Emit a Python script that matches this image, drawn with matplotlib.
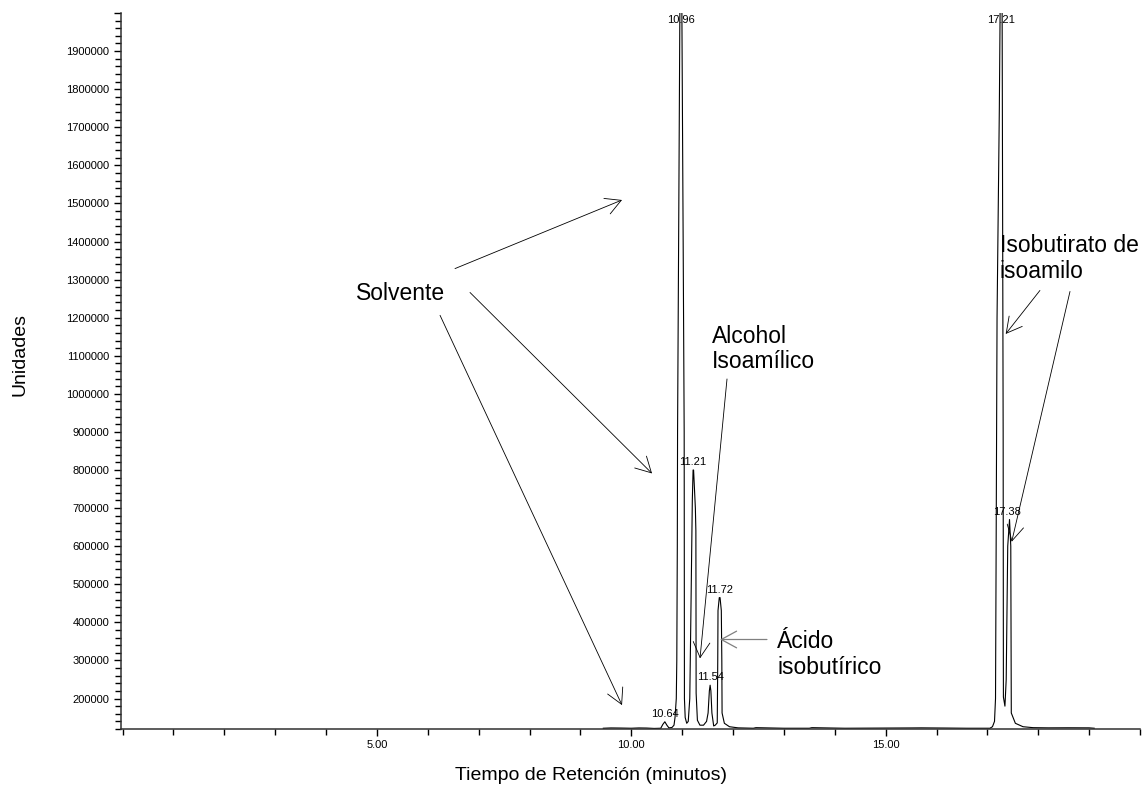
import matplotlib
matplotlib.use("Agg")
import matplotlib.pyplot as plt
from matplotlib.ticker import MultipleLocator, FuncFormatter

plt.rcParams['font.family'] = ['Liberation Sans', 'DejaVu Sans']

# Cromatograma: tiempo (min) y senal (unidades)
tiempo = [9.45, 9.60, 9.80, 10.00, 10.15, 10.30, 10.45, 10.58, 10.62, 10.66, 10.70, 10.74,
          10.80, 10.84, 10.86, 10.885, 10.895, 10.90, 10.905, 10.91, 10.935, 10.955, 10.975,
          10.995, 11.02, 11.04, 11.045, 11.06, 11.09, 11.12, 11.15, 11.17, 11.185, 11.20,
          11.215, 11.225, 11.26, 11.27, 11.275, 11.30, 11.35, 11.42, 11.48, 11.51, 11.535,
          11.55, 11.565, 11.585, 11.62, 11.65, 11.69, 11.70, 11.705, 11.73, 11.745, 11.77,
          11.78, 11.785, 11.83, 11.93, 12.10, 12.40, 12.45, 13.00, 13.50, 13.55, 14.20,
          15.50, 15.70, 15.90, 16.20, 16.60, 17.05, 17.10, 17.14, 17.16, 17.17, 17.19,
          17.235, 17.25, 17.27, 17.29, 17.31, 17.315, 17.345, 17.37, 17.40, 17.435, 17.46,
          17.47, 17.55, 17.70, 17.90, 18.20, 18.60, 19.00, 19.10]
senal = [122000, 122800, 122500, 122000, 122800, 122500, 121500, 122000, 132000, 139000, 130000, 123000,
         124000, 130000, 150000, 200000, 300000, 450000, 600000, 900000, 1500000, 2000000, 2600000,
         2000000, 1400000, 900000, 200000, 150000, 135000, 140000, 200000, 400000, 560000, 720000,
         800000, 800000, 700000, 640000, 214000, 143000, 130000, 130000, 140000, 162000, 220000,
         235000, 220000, 162000, 128000, 130000, 136000, 300000, 431000, 465000, 465000, 431000,
         300000, 162000, 135000, 126000, 123000, 122000, 123500, 122000, 122000, 123500, 122000,
         122800, 123000, 122800, 122500, 122000, 122000, 126000, 140000, 200000, 527000, 1200000,
         1750000, 2000000, 2600000, 2000000, 900000, 204000, 180000, 250000, 600000, 670000, 600000,
         162000, 135000, 126000, 123500, 123000, 123200, 123000, 122000]

# Etiquetas de los picos: texto, tiempo, altura
picos_txt = ['10.64', '10.96', '11.21', '11.54', '11.72', '17.21', '17.38']
picos_t = [10.66, 10.975, 11.215, 11.55, 11.74, 17.27, 17.38]
picos_y = [139000, 2000000, 800000, 235000, 465000, 2000000, 670000]

x_ticks = [5, 10, 15]
x_labels = ['5.00', '10.00', '15.00']

fig = plt.figure(figsize=(11.44, 7.89), dpi=100)
ax = fig.add_axes([120.5 / 1144, 60 / 789, 1019.5 / 1144, 716 / 789])

ax.plot(tiempo, senal, color='black', lw=0.8)

ax.set_xlim(-0.04, 20)
ax.set_ylim(120000, 2000000)

ax.set_xticks(x_ticks)
ax.set_xticklabels(x_labels)
ax.xaxis.set_minor_locator(MultipleLocator(1))
ax.yaxis.set_major_locator(MultipleLocator(100000))
ax.yaxis.set_minor_locator(MultipleLocator(20000))
ax.yaxis.set_major_formatter(FuncFormatter(lambda v, p: '%d' % v if v >= 200000 and v < 2000000 else ''))

ax.tick_params(axis='both', which='major', direction='out', length=5, width=1, labelsize=8, pad=3)
ax.tick_params(axis='both', which='minor', direction='out', length=4, width=1)
for s in ['top', 'right']:
    ax.spines[s].set_visible(False)
for s in ['left', 'bottom']:
    ax.spines[s].set_linewidth(1.1)
    ax.spines[s].set_color('#303030')

for txt, t, y in zip(picos_txt, picos_t, picos_y):
    if y >= 2000000:
        ax.text(t, 1996000, txt, ha='center', va='top', fontsize=8)
    else:
        ax.annotate(txt, (t, y), xytext=(0, 2), textcoords='offset points',
                    ha='center', va='bottom', fontsize=8)

flecha = dict(arrowstyle='->,head_length=1.1,head_width=0.6', color='black', lw=0.6,
              mutation_scale=10, shrinkA=0, shrinkB=0)

ax.text(5.455, 1263600, 'Solvente', ha='center', va='center', fontsize=16.5)
ax.annotate('', xy=(9.818, 1509000), xytext=(6.535, 1328900), arrowprops=flecha)
ax.annotate('', xy=(10.408, 791000), xytext=(6.830, 1266200), arrowprops=flecha)
ax.annotate('', xy=(9.818, 182700), xytext=(6.241, 1206200), arrowprops=flecha)

ax.text(11.587, 1117400, 'Alcohol\nIsoamílico', ha='left', va='center', fontsize=16.5,
        linespacing=1.15)
ax.annotate('', xy=(11.351, 305400), xytext=(11.882, 1039100), arrowprops=flecha)

ax.text(12.865, 315800, 'Ácido\nisobutírico', ha='left', va='center', fontsize=16.5,
        linespacing=1.15)
flecha_gris = dict(flecha, color='#808080', lw=0.9)
ax.annotate('', xy=(11.744, 355000), xytext=(12.667, 355000), arrowprops=flecha_gris)

ax.text(17.248, 1355000, 'Isobutirato de\nisoamilo', ha='left', va='center', fontsize=16.5,
        linespacing=1.15)
ax.annotate('', xy=(17.36, 1157300), xytext=(18.033, 1271500), arrowprops=flecha)
ax.annotate('', xy=(17.478, 611700), xytext=(18.624, 1268800), arrowprops=flecha)

fig.text(591 / 1144, 1 - 775 / 789, 'Tiempo de Retención (minutos)', ha='center', va='center',
         fontsize=14)
fig.text(20 / 1144, 1 - 355 / 789, 'Unidades', ha='center', va='center', rotation=90,
         fontsize=14)

fig.savefig('out.png', dpi=100)
